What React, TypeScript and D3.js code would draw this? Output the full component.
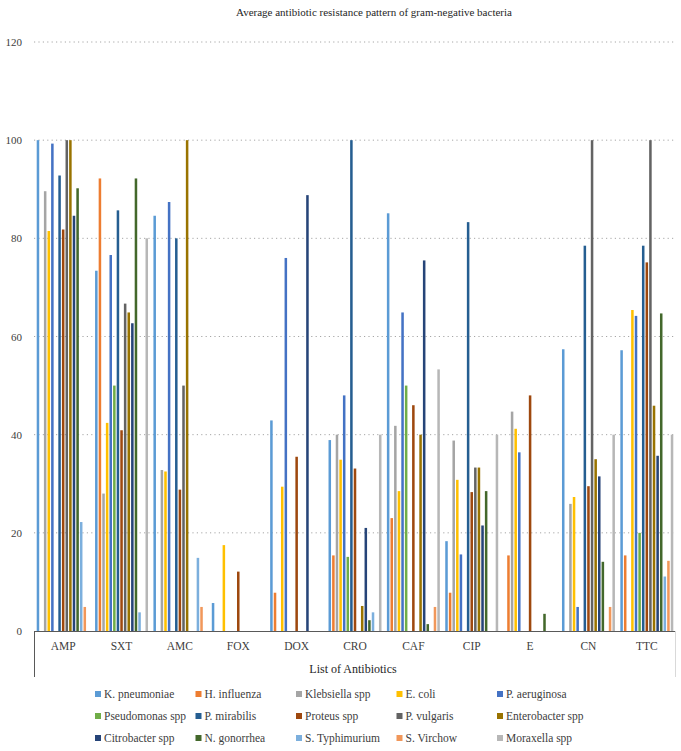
import React, { useEffect, useRef } from "react";
import * as d3 from "d3";

const categories = ["AMP", "SXT", "AMC", "FOX", "DOX", "CRO", "CAF", "CIP", "E", "CN", "TTC"];

const seriesNames = [
  "K. pneumoniae",
  "H. influenza",
  "Klebsiella spp",
  "E. coli",
  "P. aeruginosa",
  "Pseudomonas spp",
  "P. mirabilis",
  "Proteus spp",
  "P. vulgaris",
  "Enterobacter spp",
  "Citrobacter spp",
  "N. gonorrhea",
  "S. Typhimurium",
  "S. Virchow",
  "Moraxella spp",
];

const seriesColors = [
  "#5B9BD5",
  "#ED7D31",
  "#A5A5A5",
  "#FFC000",
  "#4472C4",
  "#70AD47",
  "#255E91",
  "#9E480E",
  "#636363",
  "#997300",
  "#264478",
  "#43682B",
  "#7CAFDD",
  "#F1975A",
  "#B7B7B7",
];

// values per series, in the order of categories
const kPneumoniae = [100, 73.4, 84.6, 5.7, 42.9, 38.9, 85.1, 18.3, 0, 57.4, 57.2];
const hInfluenza = [0, 92.2, 0, 0, 7.8, 15.4, 23, 7.8, 15.4, 0, 15.4];
const klebsiella = [89.6, 28, 32.8, 0, 0, 40, 41.8, 38.8, 44.7, 25.9, 0];
const eColi = [81.5, 42.4, 32.5, 17.5, 29.4, 34.9, 28.5, 30.8, 41.2, 27.3, 65.4];
const pAeruginosa = [99.3, 76.6, 87.4, 0, 76, 48, 64.9, 15.6, 36.4, 4.9, 64.2];
const pseudomonas = [0, 50, 0, 0, 0, 15.1, 50, 0, 0, 0, 20];
const pMirabilis = [92.8, 85.7, 80, 0, 0, 100, 0, 83.3, 0, 78.5, 78.5];
const proteus = [81.8, 40.9, 28.8, 12.1, 35.5, 33.1, 46, 28.3, 48, 29.5, 75.1];
const pVulgaris = [100, 66.7, 50, 0, 0, 0, 0, 33.3, 0, 100, 100];
const enterobacter = [100, 64.9, 100, 0, 0, 5.1, 40, 33.3, 0, 35, 45.9];
const citrobacter = [84.6, 62.7, 0, 0, 88.8, 21, 75.5, 21.5, 0, 31.5, 35.7];
const nGonorrhea = [90.2, 92.2, 0, 0, 0, 2.2, 1.4, 28.5, 3.5, 14.1, 64.7];
const sTyphimurium = [22.2, 3.8, 14.9, 0, 0, 3.8, 0, 0, 0, 0, 11.1];
const sVirchow = [4.9, 0, 4.9, 0, 0, 0, 4.9, 0, 0, 4.9, 14.3];
const moraxella = [0, 80, 0, 0, 0, 40, 53.3, 40, 0, 40, 40];

const yTicks = [0, 20, 40, 60, 80, 100, 120];

const seriesValues = [
  kPneumoniae,
  hInfluenza,
  klebsiella,
  eColi,
  pAeruginosa,
  pseudomonas,
  pMirabilis,
  proteus,
  pVulgaris,
  enterobacter,
  citrobacter,
  nGonorrhea,
  sTyphimurium,
  sVirchow,
  moraxella,
];

const FONT = "Liberation Serif, DejaVu Serif, serif";

export default function App() {
  const svgRef = useRef<SVGSVGElement>(null);

  useEffect(() => {
    const width = 681;
    const height = 751;
    const left = 34;
    const right = 676;
    const top = 42;
    const bottom = 631;

    const svg = d3
      .select(svgRef.current)
      .attr("width", width)
      .attr("height", height)
      .attr("font-family", FONT);
    svg.selectAll("*").remove();

    svg
      .append("rect")
      .attr("width", width)
      .attr("height", height)
      .attr("fill", "#fff");

    // title
    svg
      .append("text")
      .attr("x", 374)
      .attr("y", 16)
      .attr("text-anchor", "middle")
      .attr("font-size", 11)
      .attr("fill", "#262626")
      .text("Average antibiotic resistance pattern of gram-negative bacteria");

    const x0 = d3.scaleBand().domain(categories).range([left, right]);
    const x1 = d3
      .scaleBand()
      .domain(seriesNames)
      .range([0, x0.bandwidth()])
      .paddingInner(0.3)
      .paddingOuter(0.75);
    const y = d3.scaleLinear().domain([0, 120]).range([bottom, top]);

    // dotted gridlines
    svg
      .append("g")
      .selectAll("line")
      .data(yTicks.filter((d) => d > 0))
      .join("line")
      .attr("x1", left)
      .attr("x2", right)
      .attr("y1", (d) => y(d))
      .attr("y2", (d) => y(d))
      .attr("stroke", "#a6a6a6")
      .attr("stroke-width", 1)
      .attr("stroke-dasharray", "1.2,3.2");

    // y tick labels
    svg
      .append("g")
      .selectAll("text")
      .data(yTicks)
      .join("text")
      .attr("x", 22)
      .attr("y", (d) => y(d) + 4)
      .attr("text-anchor", "end")
      .attr("font-size", 11)
      .attr("fill", "#404040")
      .text((d) => d);

    // bars
    const groups = svg
      .append("g")
      .selectAll("g")
      .data(seriesNames)
      .join("g")
      .attr("fill", (d, i) => seriesColors[i]);

    groups
      .selectAll("rect")
      .data((d, i) =>
        categories.map((c, j) => ({ cat: c, name: d, value: seriesValues[i][j] }))
      )
      .join("rect")
      .attr("x", (d) => x0(d.cat)! + x1(d.name)!)
      .attr("width", x1.bandwidth())
      .attr("y", (d) => y(d.value))
      .attr("height", (d) => y(0) - y(d.value));

    // x axis baseline and side lines
    svg
      .append("line")
      .attr("x1", left)
      .attr("x2", right)
      .attr("y1", bottom + 0.5)
      .attr("y2", bottom + 0.5)
      .attr("stroke", "#595959")
      .attr("stroke-width", 1);
    svg
      .append("line")
      .attr("x1", left + 0.5)
      .attr("x2", left + 0.5)
      .attr("y1", bottom)
      .attr("y2", 677)
      .attr("stroke", "#595959");
    svg
      .append("line")
      .attr("x1", right - 0.5)
      .attr("x2", right - 0.5)
      .attr("y1", bottom)
      .attr("y2", 677)
      .attr("stroke", "#d9d9d9");

    // category labels
    svg
      .append("g")
      .selectAll("text")
      .data(categories)
      .join("text")
      .attr("x", (d) => x0(d)! + x0.bandwidth() / 2)
      .attr("y", 650)
      .attr("text-anchor", "middle")
      .attr("font-size", 11.5)
      .attr("fill", "#404040")
      .text((d) => d);

    svg
      .append("text")
      .attr("x", 353)
      .attr("y", 673)
      .attr("text-anchor", "middle")
      .attr("font-size", 12)
      .attr("fill", "#262626")
      .text("List of Antibiotics");

    // legend
    const legend = svg
      .append("g")
      .selectAll("g")
      .data(seriesNames)
      .join("g")
      .attr(
        "transform",
        (d, i) => `translate(${95 + (i % 5) * 100.5},${694 + Math.floor(i / 5) * 22})`
      );
    legend
      .append("rect")
      .attr("x", 0)
      .attr("y", -3)
      .attr("width", 6)
      .attr("height", 6)
      .attr("fill", (d, i) => seriesColors[i]);
    legend
      .append("text")
      .attr("x", 9)
      .attr("y", 4)
      .attr("font-size", 11.5)
      .attr("fill", "#404040")
      .text((d) => d);
  }, []);

  return (
    <div style={{ position: "absolute", left: 0, top: 0 }}>
      <svg ref={svgRef} style={{ display: "block" }} />
    </div>
  );
}
